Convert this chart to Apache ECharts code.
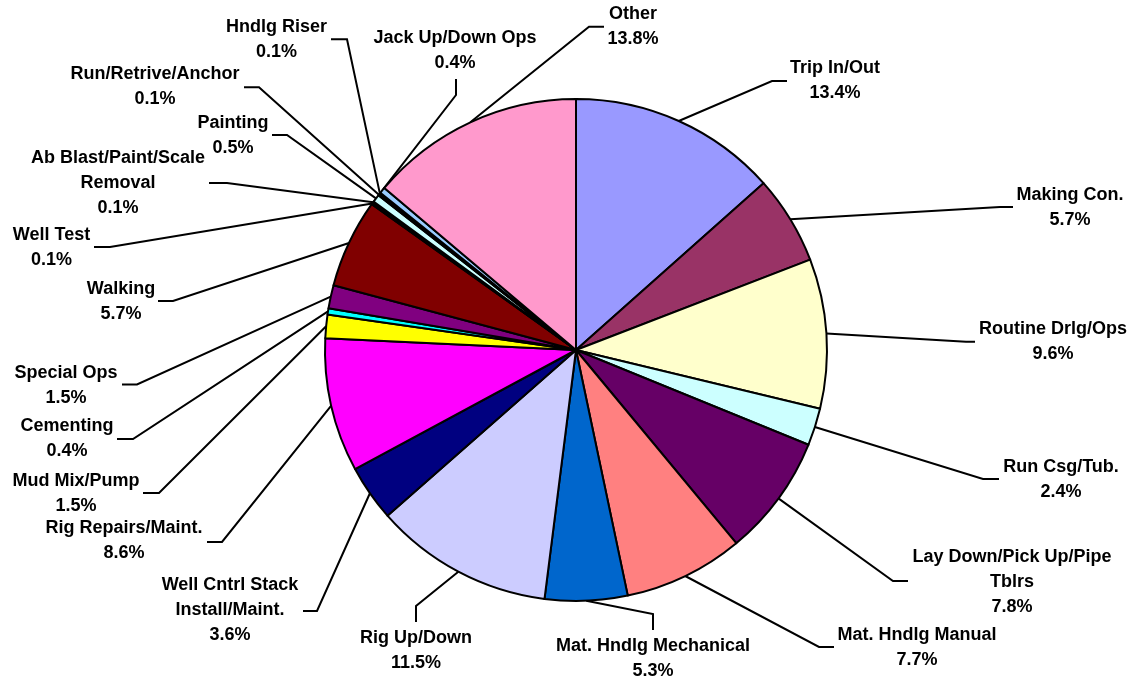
<!DOCTYPE html>
<html>
<head>
<meta charset="utf-8">
<script src="https://cdn.jsdelivr.net/npm/echarts@6/dist/echarts.min.js"></script>
<style>
html,body{margin:0;padding:0;background:#fff;}
#chart{width:1133px;height:681px;}
</style>
</head>
<body>
<div id="chart"></div>
<script>
var categories = ['Trip In/Out','Making Con.','Routine Drlg/Ops','Run Csg/Tub.','Lay Down/Pick Up/Pipe Tblrs','Mat. Hndlg Manual','Mat. Hndlg Mechanical','Rig Up/Down','Well Cntrl Stack Install/Maint.','Rig Repairs/Maint.','Mud Mix/Pump','Cementing','Special Ops','Walking','Well Test','Ab Blast/Paint/Scale Removal','Painting','Run/Retrive/Anchor','Hndlg Riser','Jack Up/Down Ops','Other'];
var values = [13.4,5.7,9.6,2.4,7.8,7.7,5.3,11.5,3.6,8.6,1.5,0.4,1.5,5.7,0.1,0.1,0.5,0.1,0.1,0.4,13.8];
var colors = ['#9999FF','#993366','#FFFFCC','#CCFFFF','#660066','#FF8080','#0066CC','#CCCCFF','#000080','#FF00FF','#FFFF00','#00FFFF','#800080','#800000','#008080','#0000FF','#CCFFFF','#CCFFCC','#FFFF99','#99CCFF','#FF99CC'];
var wrapped = {
  'Lay Down/Pick Up/Pipe Tblrs': 'Lay Down/Pick Up/Pipe\nTblrs',
  'Well Cntrl Stack Install/Maint.': 'Well Cntrl Stack\nInstall/Maint.',
  'Ab Blast/Paint/Scale Removal': 'Ab Blast/Paint/Scale\nRemoval'
};
// label placement: [labelX, labelY, elbowX, elbowY, endX, endY]
var labelPlace = [
  [835, 80.5, 772, 81, 787, 81],
  [1070, 208, 1000, 207, 1013, 207],
  [1053, 341.5, 966, 341.7, 975, 341.7],
  [1061, 480, 983, 479, 999, 479],
  [1012, 582, 893, 581, 908, 581],
  [917, 648, 819, 647, 834, 647],
  [653, 658.5, 653, 614, 653, 630],
  [416, 651, 416, 606, 416, 622],
  [230, 610, 317, 611, 303, 611],
  [124, 541, 222, 542, 207, 542],
  [76, 493.5, 159, 493, 143, 493],
  [67, 439, 133, 439, 117, 439],
  [66, 385.5, 137, 384.5, 122, 384.5],
  [121, 302, 173, 301, 158, 301],
  [51.5, 248, 110, 247, 94, 247],
  [118, 182.7, 227, 183, 209, 183],
  [233, 135.5, 287, 135, 272, 135],
  [155, 86.7, 259, 87.3, 244, 87.3],
  [276.5, 39.5, 347, 39.3, 331, 39.3],
  [455, 50.8, 456, 95, 456, 79],
  [633, 27, 589, 26.7, 604, 26.7]
];
var CX = 576, CY = 350, R = 251;
var total = values.reduce(function(a,b){return a+b;},0);
var cum = [];
(function(){var s=0; for(var i=0;i<values.length;i++){cum.push(s); s+=values[i];}})();

var data = categories.map(function(c,i){
  return {name:c, value:values[i], itemStyle:{color:colors[i]}};
});

var chart = echarts.init(document.getElementById('chart'), null, {renderer:'canvas'});
chart.setOption({
  animation:false,
  backgroundColor:'#ffffff',
  series:[{
    type:'pie',
    center:[CX, CY],
    radius:[0, R],
    startAngle:90,
    clockwise:true,
    avoidLabelOverlap:false,
    minShowLabelAngle:0,
    data:data,
    itemStyle:{borderColor:'#000000', borderWidth:2},
    label:{
      show:true,
      position:'outside',
      fontFamily:'"Liberation Sans", Arial, sans-serif',
      fontWeight:'bold',
      fontSize:18,
      lineHeight:25,
      color:'#000000',
      align:'center',
      formatter:function(p){
        var n = wrapped[p.name] || p.name;
        return n + '\n' + p.value.toFixed(1) + '%';
      }
    },
    labelLine:{show:true, lineStyle:{color:'#000000', width:2}},
    emphasis:{disabled:true},
    labelLayout:function(params){
      var i = params.dataIndex;
      var lp = labelPlace[i];
      var frac = (cum[i] + values[i]/2) / total;
      var ang = frac * 2 * Math.PI;
      var sx = CX + R * Math.sin(ang);
      var sy = CY - R * Math.cos(ang);
      return {
        x: lp[0], y: lp[1],
        align:'center', verticalAlign:'middle',
        labelLinePoints:[[sx, sy],[lp[2], lp[3]],[lp[4], lp[5]]]
      };
    }
  }]
});
</script>
</body>
</html>
